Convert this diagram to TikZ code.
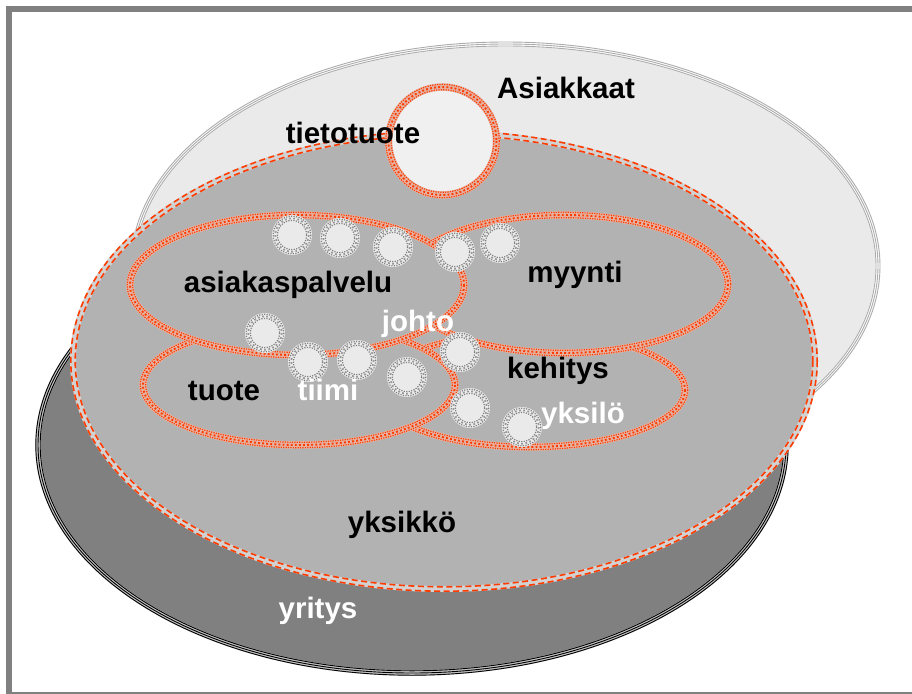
\documentclass[tikz,border=0pt]{standalone}
\usepackage{fontspec}
\setmainfont{Liberation Sans}
\definecolor{redc}{RGB}{255,60,0}
\definecolor{lightg}{RGB}{234,234,234}
\definecolor{midg}{RGB}{178,178,178}
\definecolor{darkg}{RGB}{128,128,128}
\definecolor{ringbg}{RGB}{228,178,162}
\definecolor{scbg}{RGB}{236,236,236}
\newcommand\redring[3]{%
  \fill[midg] (#1) ellipse [x radius=#2, y radius=#3];
  \draw[rbg] (#1) ellipse [x radius=#2, y radius=#3];
  \draw[rdot] (#1) ellipse [x radius=#2+2.7, y radius=#3+2.7];
  \draw[rdot] (#1) ellipse [x radius=#2-2.7, y radius=#3-2.7];
  \draw[rmid] (#1) ellipse [x radius=#2, y radius=#3];}
\newcommand\smallcirc[1]{%
  \fill[scbg] (#1) circle [radius=20];
  \draw[scdot] (#1) circle [radius=18.8];
  \draw[scdot] (#1) circle [radius=14.6];
  \draw[scmid] (#1) circle [radius=16.7];
  \fill[lightg] (#1) circle [radius=13.2];}
\begin{document}
\begin{tikzpicture}[x=1pt,y=-1pt,
  frame/.style={draw=darkg,line width=6},
  rbg/.style={draw=ringbg,line width=7.5},
  rdot/.style={draw=redc,line width=1.2,dash pattern=on 1.2 off 1.2},
  rmid/.style={draw=redc,line width=1.9,dash pattern=on 1.9 off 2.2},
  scdot/.style={draw=darkg,line width=1.2,dash pattern=on 1.2 off 1.3},
  scmid/.style={draw=darkg!80,line width=1.8,dash pattern=on 1.8 off 2.4},
  lbl/.style={anchor=base,inner sep=0pt,font=\bfseries\fontsize{29.5}{34}\selectfont},
  wlbl/.style={lbl,text=white}]
\useasboundingbox (0,0) rectangle (912,693);
\clip (0,0) rectangle (912,693);
\fill[white] (0,0) rectangle (912,693);
\draw[frame] (940,9) -- (9,9) -- (9,694.5) -- (940,694.5);
% yritys
\coordinate (cyr) at (412,445);
\fill[darkg] (cyr) ellipse [x radius=374, y radius=228];
\draw[line width=5.5,draw=gray!45] (cyr) ellipse [x radius=374, y radius=228];
\foreach \d in {-2.2,0,2.2}
  \draw[line width=0.9,black] (cyr) ellipse [x radius=374+\d, y radius=228+\d];
% Asiakkaat
\coordinate (cas) at (505.5,266);
\fill[lightg] (cas) ellipse [x radius=372.5, y radius=222];
\draw[line width=5,draw=white] (cas) ellipse [x radius=372.5, y radius=222];
\foreach \d in {-2,0,2}
  \draw[line width=0.9,draw=gray!65] (cas) ellipse [x radius=372.5+\d, y radius=222+\d];
% yksikko
\coordinate (cyk) at (444,361);
\fill[midg] (cyk) ellipse [x radius=371, y radius=228];
\draw[line width=6,draw=gray!35] (cyk) ellipse [x radius=371, y radius=228];
\foreach \d in {-2.2,2.2}
  \draw[line width=1.6,draw=redc,dash pattern=on 6 off 3.5] (cyk) ellipse [x radius=371+\d, y radius=228+\d];
% tietotuote circle
\coordinate (ctt) at (442.5,141);
\fill[lightg!70!white] (ctt) circle [radius=54];
\draw[rbg] (ctt) circle [radius=54];
\draw[rdot] (ctt) circle [radius=56.7];
\draw[rdot] (ctt) circle [radius=51.3];
\draw[rmid] (ctt) circle [radius=54];
% inner ellipses, drawn in stacking order
\coordinate (cke) at (530,390);
\coordinate (ctu) at (299,385);
\coordinate (cmy) at (564,284);
\coordinate (cap) at (297,285);
\redring{cke}{155}{57}
\redring{ctu}{156}{60}
\redring{cmy}{164}{69}
\redring{cap}{167}{70}
% small circles
\foreach \px/\py in {292/235,340/238,393/247,455/252,500/243,265/333,308/362,357/360,407/377,460/352,470/408,522/427}
  {\coordinate (sc) at (\px,\py); \smallcirc{sc}}
% labels
\node[lbl] (asiakkaat) at (566,98) {Asiakkaat};
\node[lbl] (tietotuote) at (353,143) {tietotuote};
\node[lbl] (asiakaspalvelu) at (288,292) {asiakaspalvelu};
\node[lbl] (myynti) at (575,282) {myynti};
\node[wlbl] (johto) at (418,331) {johto};
\node[lbl] (kehitys) at (558,378) {kehitys};
\node[lbl] (tuote) at (224,400) {tuote};
\node[wlbl] (tiimi) at (328,400) {tiimi};
\node[wlbl] (yksilo) at (583,423) {yksilö};
\node[lbl] (yksikko) at (402,532) {yksikkö};
\node[wlbl] (yritys) at (318,618) {yritys};
\end{tikzpicture}
\end{document}
